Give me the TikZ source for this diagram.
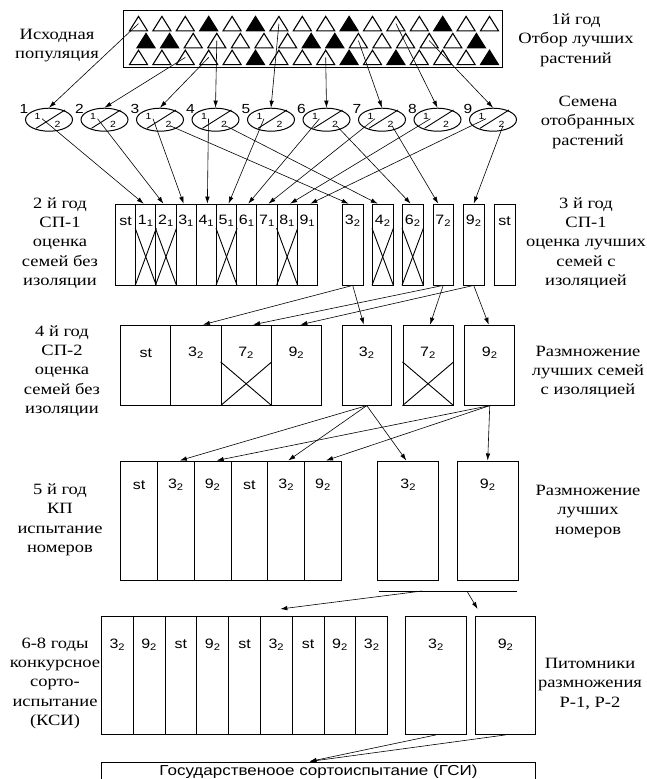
\documentclass[tikz,border=0pt]{standalone}
\usepackage{fontspec}
\setmainfont{Liberation Serif}
\newfontfamily\cellfont{Liberation Sans}
\usepackage{graphicx}
\usetikzlibrary{arrows.meta,shapes.geometric,calc}
\newcommand\sq[1]{\scalebox{1}[0.85]{#1}}
\newcommand\mlines[1]{\sq{\begin{tabular}{@{}c@{}}#1\end{tabular}}}
\newcommand\cbox[7]{%
  \node[box, minimum width=#4pt, minimum height=#5pt] (#1) at (#2,#3) {};
  \node[ctxt] (#1t) at ($(#1.north)+(0,#7)$) {\sq{#6}};}
\newcommand\xcross[2]{%
  \draw[xl] ($(#1.north west)!#2!(#1.south west)$) -- (#1.south east);
  \draw[xl] ($(#1.north east)!#2!(#1.south east)$) -- (#1.south west);}
\newcommand\nsb[2]{#1\textsubscript{#2}}
\begin{document}
\begin{tikzpicture}[x=1pt,y=-1pt,
  lbl/.style={inner sep=0, font=\fontsize{18.5}{22.6}\selectfont},
  box/.style={draw, line width=0.9pt, inner sep=0, anchor=north west},
  ctxt/.style={inner sep=0, font=\cellfont\fontsize{16}{19}\selectfont},
  small/.style={inner sep=0, font=\cellfont\fontsize{10.5}{12}\selectfont},
  num/.style={inner sep=0, font=\cellfont\fontsize{15.5}{18}\selectfont},
  tri/.style={line width=1.1pt, line join=miter},
  arr/.style={-{Latex[length=7pt,width=4.5pt]}, line width=0.6pt},
  xl/.style={line width=0.9pt}]
\useasboundingbox (0,0) rectangle (646,779);
\clip (0,0) rectangle (646,779);

% ---------- population ----------
\node[draw, line width=1.4pt, minimum width=379pt, minimum height=57pt, anchor=north west, inner sep=0] (pop) at (123,9.6) {};
\foreach \f [count=\k] in {0,0,0,1,0,1,0,0,0,1,0,0,0,1,0,0}{
  \pgfmathsetmacro\tx{138.5+23.4*(\k-1)}
  \coordinate (ta\k) at (\tx,23.6);
  \ifnum\f=1 \def\tcol{black}\else\def\tcol{white}\fi
  \filldraw[tri, fill=\tcol] ($(ta\k)+(-9,7.2)$) -- ($(ta\k)+(0,-7.2)$) -- ($(ta\k)+(9,7.2)$) -- cycle;
}
\foreach \f [count=\k] in {1,1,0,0,0,0,0,1,1,0,0,0,0,0,1}{
  \pgfmathsetmacro\tx{146+23.6*(\k-1)}
  \coordinate (tb\k) at (\tx,40.6);
  \ifnum\f=1 \def\tcol{black}\else\def\tcol{white}\fi
  \filldraw[tri, fill=\tcol] ($(tb\k)+(-9,7.2)$) -- ($(tb\k)+(0,-7.2)$) -- ($(tb\k)+(9,7.2)$) -- cycle;
}
\foreach \f [count=\k] in {0,0,0,0,0,1,0,0,0,1,0,1,0,0,0,1}{
  \pgfmathsetmacro\tx{138.5+23.4*(\k-1)}
  \coordinate (tc\k) at (\tx,57.4);
  \ifnum\f=1 \def\tcol{black}\else\def\tcol{white}\fi
  \filldraw[tri, fill=\tcol] ($(tc\k)+(-9,7.2)$) -- ($(tc\k)+(0,-7.2)$) -- ($(tc\k)+(9,7.2)$) -- cycle;
}

% ---------- ellipses ----------
\foreach \k in {1,...,9}{
  \pgfmathsetmacro\ex{49+55.5*(\k-1)}
  \node[ellipse, draw, line width=1pt, minimum width=47pt, minimum height=23pt, inner sep=0] (e\k) at (\ex,119.7) {};
  \draw[line width=0.9pt] ($(e\k)+(-13,8.6)$) -- ($(e\k)+(16,-9.7)$);
  \node[small] (ea\k) at ($(e\k)+(-11.5,-3)$) {\sq{1}};
  \node[small] (eb\k) at ($(e\k)+(8.5,4.5)$) {\sq{2}};
  \node[num] (n\k) at ($(e\k)+(-25,-10.5)$) {\sq{\k}};
  \coordinate (p\k) at ($(e\k)+(-7,-1)$);
  \coordinate (q\k) at ($(e\k)+(10,6)$);
}
\draw[arr] (ta1) -- (e1.north);
\draw[arr] (tc3) -- (e2.north);
\draw[arr] (tc4) -- (e3.north);
\draw[arr] (tb4) -- (e4.north);
\draw[arr] (ta7) -- (e5.north);
\draw[arr] (tc9) -- (e6.north);
\draw[arr] (tb10) -- (e7.north);
\draw[arr] (ta12) -- (e8.north);
\draw[arr] (tb13) -- (e9.north);

% ---------- year 2 / 3 ----------
\cbox{b0}{115}{203.7}{20.2}{80.8}{st}{17}
\cbox{b11}{135.2}{203.7}{20.2}{80.8}{\nsb{1}{1}}{17}
\cbox{b21}{155.4}{203.7}{20.2}{80.8}{\nsb{2}{1}}{17}
\cbox{b31}{175.6}{203.7}{20.2}{80.8}{\nsb{3}{1}}{17}
\cbox{b41}{195.8}{203.7}{20.2}{80.8}{\nsb{4}{1}}{17}
\cbox{b51}{216}{203.7}{20.2}{80.8}{\nsb{5}{1}}{17}
\cbox{b61}{236.2}{203.7}{20.2}{80.8}{\nsb{6}{1}}{17}
\cbox{b71}{256.4}{203.7}{20.2}{80.8}{\nsb{7}{1}}{17}
\cbox{b81}{276.6}{203.7}{20.2}{80.8}{\nsb{8}{1}}{17}
\cbox{b91}{296.8}{203.7}{20.2}{80.8}{\nsb{9}{1}}{17}
\cbox{b32}{342}{203.7}{20.5}{80.8}{\nsb{3}{2}}{17}
\cbox{b42}{372}{203.7}{20.5}{80.8}{\nsb{4}{2}}{17}
\cbox{b62}{402}{203.7}{20.5}{80.8}{\nsb{6}{2}}{17}
\cbox{b72}{432.5}{203.7}{20.5}{80.8}{\nsb{7}{2}}{17}
\cbox{b92}{463}{203.7}{20.5}{80.8}{\nsb{9}{2}}{17}
\cbox{bst}{494}{203.7}{20.5}{80.8}{st}{17}
\xcross{b11}{0.3}\xcross{b21}{0.3}\xcross{b51}{0.3}\xcross{b81}{0.3}
\xcross{b42}{0.3}\xcross{b62}{0.3}

\draw[arr] (p1) -- ([xshift=-2pt]b11.north);
\draw[arr] (p2) -- ([xshift=-2.5pt]b21.north);
\draw[arr] (p3) -- ([xshift=-2.5pt]b31.north);
\draw[arr] (p4) -- ([xshift=1pt]b41.north);
\draw[arr] (p5) -- ([xshift=2pt]b51.north);
\draw[arr] (p6) -- ([xshift=1.5pt]b61.north);
\draw[arr] (p7) -- ([xshift=1.5pt]b71.north);
\draw[arr] (p8) -- ([xshift=3pt]b81.north);
\draw[arr] (p9) -- ([xshift=3pt]b91.north);
\draw[arr] (q3) -- ([xshift=-4pt]b32.north);
\draw[arr] (q4) -- ([xshift=-5pt]b42.north);
\draw[arr] (q6) -- ([xshift=-2pt]b62.north);
\draw[arr] (q7) -- ([xshift=-5pt]b72.north);
\draw[arr] (q9) -- (b92.north);

% ---------- year 4 ----------
\cbox{f0}{120.2}{324.7}{50.2}{80}{st}{28}
\cbox{f32}{170.4}{324.7}{50.2}{80}{\nsb{3}{2}}{28}
\cbox{f72}{220.6}{324.7}{50.2}{80}{\nsb{7}{2}}{28}
\cbox{f92}{270.8}{324.7}{50.2}{80}{\nsb{9}{2}}{28}
\cbox{g32}{341.6}{324.7}{49.5}{80}{\nsb{3}{2}}{28}
\cbox{g72}{402.5}{324.7}{50.2}{80}{\nsb{7}{2}}{28}
\cbox{g92}{464.2}{324.7}{50.2}{80}{\nsb{9}{2}}{28}
\xcross{f72}{0.46}\xcross{g72}{0.46}

\draw[arr] (b32.south) -- ([xshift=7pt]f32.north);
\draw[arr] (b32.south) -- ([xshift=-3pt]g32.north);
\draw[arr] (b72.south) -- ([xshift=7pt]f72.north);
\draw[arr] (b72.south) -- ([xshift=2pt]g72.north);
\draw[arr] (b92.south) -- ([xshift=4pt]f92.north);
\draw[arr] (b92.south) -- ([xshift=-1pt]g92.north);

% ---------- year 5 ----------
\cbox{h1}{120.2}{460.5}{36.8}{119.5}{st}{24.5}
\cbox{h2}{157}{460.5}{36.8}{119.5}{\nsb{3}{2}}{24.5}
\cbox{h3}{193.8}{460.5}{36.8}{119.5}{\nsb{9}{2}}{24.5}
\cbox{h4}{230.6}{460.5}{36.8}{119.5}{st}{24.5}
\cbox{h5}{267.4}{460.5}{36.8}{119.5}{\nsb{3}{2}}{24.5}
\cbox{h6}{304.2}{460.5}{36.8}{119.5}{\nsb{9}{2}}{24.5}
\cbox{m3}{377.4}{460.5}{60.9}{119.5}{\nsb{3}{2}}{24.5}
\cbox{m9}{456.8}{460.5}{60.9}{119.5}{\nsb{9}{2}}{24.5}

\draw[arr] (g32.south) -- ([xshift=4pt]h2.north);
\draw[arr] (g32.south) -- ([xshift=2pt]h5.north);
\draw[arr] (g32.south) -- ([xshift=-2pt]m3.north);
\draw[arr] (g92.south) -- ([xshift=4pt]h3.north);
\draw[arr] (g92.south) -- ([xshift=3pt]h6.north);
\draw[arr] (g92.south) -- (m9.north);

\coordinate (hl1) at (378.6,591);
\coordinate (hl2) at (516.5,591);
\draw[line width=0.9pt] (hl1) -- (hl2);

% ---------- years 6-8 ----------
\cbox{k1}{101}{615.5}{31.8}{118.5}{\nsb{3}{2}}{29}
\cbox{k2}{132.8}{615.5}{31.8}{118.5}{\nsb{9}{2}}{29}
\cbox{k3}{164.6}{615.5}{31.8}{118.5}{st}{29}
\cbox{k4}{196.4}{615.5}{31.8}{118.5}{\nsb{9}{2}}{29}
\cbox{k5}{228.2}{615.5}{31.8}{118.5}{st}{29}
\cbox{k6}{260}{615.5}{31.8}{118.5}{\nsb{3}{2}}{29}
\cbox{k7}{291.8}{615.5}{31.8}{118.5}{st}{29}
\cbox{k8}{323.6}{615.5}{31.8}{118.5}{\nsb{9}{2}}{29}
\cbox{k9}{355.4}{615.5}{31.8}{118.5}{\nsb{3}{2}}{29}
\cbox{r3}{405.3}{615.5}{60.5}{118.5}{\nsb{3}{2}}{29}
\cbox{r9}{475.3}{615.5}{59.7}{118.5}{\nsb{9}{2}}{29}

\draw[arr] ($(hl1)!0.315!(hl2)$) -- ([xshift=4pt,yshift=6.5pt]k6.north);
\draw[arr] ($(hl1)!0.64!(hl2)$) -- ([xshift=-28pt,yshift=6.5pt]r9.north);

% ---------- GSI ----------
\node[draw, line width=0.9pt, minimum width=434pt, minimum height=30pt, anchor=north west, inner sep=0] (gsi) at (101,761.5) {};
\node[ctxt, font=\cellfont\fontsize{17}{20}\selectfont] (gsit) at ($(gsi.north)+(0,10)$) {\sq{Государственоое сортоиспытание (ГСИ)}};
\draw[arr] (r3.south) -- ([xshift=-9pt]gsi.north);
\draw[arr] (r9.south) -- ([xshift=-9pt]gsi.north);

% ---------- side labels ----------
\node[lbl] (L0) at (57,45.5) {\mlines{Исходная\\популяция}};
\node[lbl] (R0) at (576,40) {\mlines{1й год\\Отбор лучших\\растений}};
\node[lbl] (R1) at (588,122) {\mlines{Семена\\отобранных\\растений}};
\node[lbl] (L2) at (60,243) {\mlines{2 й год\\СП-1\\оценка\\семей без\\изоляции}};
\node[lbl] (R2) at (586,243) {\mlines{3 й год\\СП-1\\оценка лучших\\семей с\\изоляцией}};
\node[lbl] (L4) at (62,371) {\mlines{4 й год\\СП-2\\оценка\\семей без\\изоляции}};
\node[lbl] (R4) at (588,371.5) {\mlines{Размножение\\лучших семей\\с изоляцией}};
\node[lbl] (L5) at (60,519.6) {\mlines{5 й год\\КП\\испытание\\номеров}};
\node[lbl] (R5) at (588,511) {\mlines{Размножение\\лучших\\номеров}};
\node[lbl] (L6) at (55,683) {\mlines{6-8 годы\\конкурсное\\сорто-\\испытание\\(КСИ)}};
\node[lbl] (R6) at (590,684) {\mlines{Питомники\\размножения\\Р-1, Р-2}};
\end{tikzpicture}
\end{document}
